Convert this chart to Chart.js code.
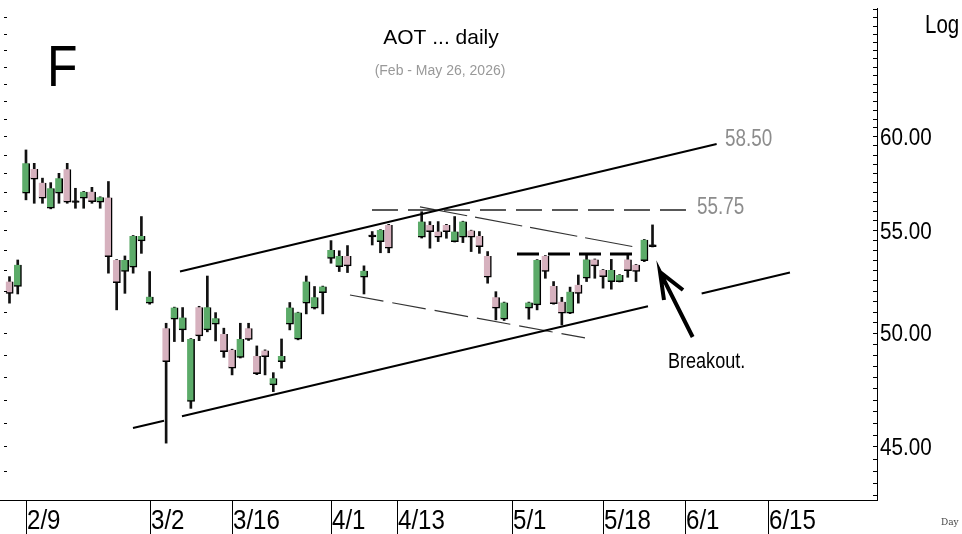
<!DOCTYPE html>
<html>
<head>
<meta charset="utf-8">
<title>AOT daily</title>
<script src="https://cdn.jsdelivr.net/npm/chart.js@4.4.1/dist/chart.umd.min.js"></script>
<style>
  html, body { margin: 0; padding: 0; background: #fff; }
  canvas { display: block; }
</style>
</head>
<body>
<canvas id="myChart" width="962" height="534"></canvas>
<script>
// weekday slots from 2026-02-05, holidays stay as empty slots
let slots = []
let day = new Date(2026, 1, 5)
while (slots.length < 106) {
    const wd = day.getDay()
    if (wd !== 0 && wd !== 6) slots.push((day.getMonth() + 1) + '/' + day.getDate())
    day.setDate(day.getDate() + 1)
}
const tickDates = ['2/9', '3/2', '3/16', '4/1', '4/13', '5/1', '5/18', '6/1', '6/15']
const priceLabels = [45, 50, 55, 60]

const open = [52.44, 52.20, 56.92, 58.21, 57.48, 56.13, 56.92, 58.20, 56.47, 56.66,
    57.00, 56.45, 56.69, 53.50, 52.93, 53.15, 54.46, 51.40, null, 50.22,
    50.64, 50.14, 46.92, 51.21, 50.14, 50.41, 49.95, 49.22, 48.88, 50.22,
    48.94, 49.19, 47.65, 48.68, 50.41, 49.71, 51.40, 51.16, 51.90, 53.58,
    53.17, 53.70, null, 52.65, 54.66, 54.42, 55.27, null, null, null,
    54.64, 55.27, 54.93, 55.27, 54.42, 54.64, 54.98, 54.71, 53.70, 51.68,
    50.64, null, null, 51.16, 51.32, 53.70, 52.23, 51.47, 50.92, 52.28,
    52.60, 53.53, 53.01, 52.44, 52.44, 53.53, 53.26, 53.47, 54.17]
const high = [52.68, 53.50, 59.25, 58.52, 57.72, 57.48, 57.98, 58.52, 57.18, 57.02,
    57.23, 56.73, 57.54, 53.52, 53.70, 54.73, 55.70, 52.93, null, 50.45,
    51.21, 51.19, 49.74, 51.25, 52.71, 50.95, 50.22, 49.25, 50.45, 50.45,
    49.40, 49.22, 48.19, 49.72, 51.43, 50.97, 52.71, 52.20, 52.22, 54.47,
    53.96, 54.22, null, 53.21, 54.93, 55.03, 55.30, null, null, null,
    55.95, 55.44, 55.44, 55.30, 55.70, 55.46, 55.00, 54.93, 53.92, 51.95,
    51.45, null, null, 51.45, 53.52, 53.72, 52.44, 51.68, 52.17, 52.76,
    53.75, 53.55, 53.03, 53.53, 52.78, 53.75, 53.28, 54.53, 55.27]
const low = [51.40, 51.84, 56.57, 56.39, 56.39, 56.10, 56.39, 56.39, 56.13, 56.13,
    56.39, 56.13, 52.85, 51.08, 51.87, 52.85, 53.83, 51.35, null, 45.14,
    49.60, 49.60, 46.62, 49.64, 50.05, 49.63, 48.88, 48.09, 48.85, 49.65,
    48.10, 48.09, 47.35, 48.39, 50.14, 49.68, 50.89, 51.12, 50.89, 53.34,
    52.93, 52.88, null, 51.84, 54.25, 53.86, 53.86, null, null, null,
    54.60, 54.09, 54.42, 54.59, 54.40, 54.37, 53.92, 53.83, 52.36, 50.61,
    50.58, null, null, 50.64, 51.08, 52.60, 51.35, 50.37, 50.90, 51.40,
    52.44, 52.60, 52.12, 52.07, 52.42, 52.65, 52.44, 53.42, 54.15]
const close = [51.87, 53.26, 58.52, 57.67, 56.66, 57.18, 57.72, 56.45, 56.43, 57.00,
    56.48, 56.71, 53.66, 52.39, 53.50, 54.71, 54.71, 51.71, null, 48.68,
    51.19, 50.72, 49.72, 49.86, 51.21, 50.69, 49.14, 48.39, 49.72, 49.70,
    48.15, 48.91, 47.94, 48.94, 51.19, 50.95, 52.44, 51.68, 52.20, 54.00,
    53.70, 53.21, null, 52.97, 54.70, 55.01, 54.09, null, null, null,
    55.44, 54.93, 54.64, 54.93, 54.93, 55.44, 54.64, 54.17, 52.65, 51.16,
    51.43, null, null, 51.43, 53.50, 52.93, 51.37, 50.92, 51.95, 51.87,
    53.53, 53.21, 52.68, 53.01, 52.76, 52.97, 52.93, 54.51, 54.19]

// drawn lines as [slot, price] points, null = gap
const upperChannel = [[20.68, 52.93], [85.78, 59.58]]
const lowerChannel = [[14.98, 45.78], [18.74, 46.09], null, [20.92, 46.28], [77.45, 51.25], null, [83.96, 51.86], [94.67, 52.88]]
const resistance = [[43.97, 56.04], [82.54, 56.04]]
const upperTrend = [[49.79, 56.20], [76.48, 54.10]]
const lowerTrend = [[41.3, 51.79], [69.81, 49.77]]
const breakoutLevel = [[61.56, 53.80], [76.48, 53.80]]
const arrow = [[82.87, 49.81], [78.91, 52.90], [79.39, 51.55], null, [78.91, 52.90], [81.70, 52.03]]

const green = '#5cab69'
const pink = '#d6b1be'

let wicks = []
let bodies = []
let bodyColors = []
open.forEach((o, i) => {
    if (o === null) return
    wicks.push({ x: i, y: [low[i], high[i]] })
    bodies.push({ x: i, y: [o, close[i]] })
    if (Math.abs(close[i] - o) < 0.06) bodyColors.push('#111')
    else bodyColors.push(close[i] > o ? green : pink)
})

function pts(arr) {
    return arr.map((p, k) => p ? { x: p[0], y: p[1] } : { x: arr[k - 1][0], y: null })
}
function lineSet(arr, width, dash, color) {
    return {
        type: 'line', data: pts(arr), borderColor: color || '#000', borderWidth: width,
        borderDash: dash || [], pointRadius: 0, fill: false, tension: 0, order: 0, spanGaps: false
    }
}

const tickIdx = tickDates.map(t => slots.indexOf(t))
const sans = "'Liberation Sans', Arial, sans-serif"

// narrow look: Liberation Sans squeezed horizontally
function narrowText(ctx, text, x, y, size, color, squeeze) {
    ctx.save()
    ctx.font = size + 'px ' + sans
    ctx.fillStyle = color
    ctx.textAlign = 'left'
    ctx.textBaseline = 'alphabetic'
    ctx.translate(x, y)
    ctx.scale(squeeze || 0.82, 1)
    ctx.fillText(text, 0, 0)
    ctx.restore()
}

const decor = {
    id: 'decor',
    afterDraw(chart) {
        const { ctx, chartArea, scales: { x, y } } = chart
        ctx.save()
        ctx.strokeStyle = '#000'
        ctx.lineWidth = 1
        ctx.beginPath()
        for (let v = 43; v <= 67.5; v += 0.5) {
            const py = Math.round(y.getPixelForValue(v)) + 0.5
            ctx.moveTo(chartArea.right - 4, py); ctx.lineTo(chartArea.right, py)
        }
        for (let v = 44; v <= 67; v += 1) {
            const py = Math.round(y.getPixelForValue(v)) + 0.5
            ctx.moveTo(4, py); ctx.lineTo(7, py)
        }
        x.ticks.forEach(t => {
            const px = Math.round(x.getPixelForValue(t.value)) + 0.5
            ctx.moveTo(px, chartArea.bottom); ctx.lineTo(px, chart.height)
        })
        ctx.stroke()
        ctx.restore()

        // axis labels
        x.ticks.forEach(t => {
            narrowText(ctx, slots[t.value], Math.round(x.getPixelForValue(t.value)) + 1, 529, 28, '#000', 0.86)
        })
        y.ticks.forEach(t => {
            narrowText(ctx, t.value.toFixed(2), chartArea.right + 3, y.getPixelForValue(t.value) + 8.5, 24, '#000', 0.86)
        })

        narrowText(ctx, 'F', 47, 86, 58, '#000', 0.86)
        ctx.save()
        ctx.textBaseline = 'alphabetic'
        ctx.textAlign = 'center'
        ctx.fillStyle = '#000'
        ctx.font = '21px ' + sans
        ctx.fillText('AOT ... daily', 441, 44)
        ctx.font = '14px ' + sans
        ctx.fillStyle = '#999'
        ctx.fillText('(Feb - May 26, 2026)', 440, 75)
        ctx.textAlign = 'left'
        ctx.font = "9px 'DejaVu Serif', serif"
        ctx.fillStyle = '#444'
        ctx.fillText('Day', 941, 525)
        ctx.restore()
        narrowText(ctx, 'Log', 925, 33, 25, '#000')
        narrowText(ctx, '58.50', 725, 146, 23, '#8c8c8c')
        narrowText(ctx, '55.75', 697, 214, 23, '#8c8c8c')
        narrowText(ctx, 'Breakout.', 668, 368, 22, '#000')
    }
}

var ctx = document.getElementById('myChart').getContext('2d')
var chart = new Chart(ctx, {
    type: 'bar',
    data: {
        datasets: [
            lineSet(upperChannel, 2),
            lineSet(lowerChannel, 2),
            lineSet(resistance, 1.3, [26, 10], '#222'),
            lineSet(upperTrend, 1.2, [48, 8], '#333'),
            lineSet(lowerTrend, 1.2, [34, 9], '#333'),
            lineSet(breakoutLevel, 3, [22, 9]),
            lineSet(arrow, 4),
            {
                type: 'bar', data: bodies, backgroundColor: bodyColors, borderColor: '#000',
                borderWidth: { top: 0, left: 0, right: 1.5, bottom: 1.5 }, borderSkipped: false,
                barThickness: 7.5, minBarLength: 2, grouped: false, order: 1
            },
            {
                type: 'bar', data: wicks, backgroundColor: '#111', borderWidth: 0,
                barThickness: 2, grouped: false, order: 2
            }
        ]
    },
    options: {
        responsive: false,
        animation: false,
        devicePixelRatio: 1,
        layout: { padding: { top: 8, left: 0, right: 0, bottom: 0 } },
        plugins: { legend: { display: false }, tooltip: { enabled: false } },
        scales: {
            x: {
                type: 'linear', offset: false, min: -1.152, max: 105.23,
                afterBuildTicks: s => { s.ticks = tickIdx.map(v => ({ value: v })) },
                afterFit: s => { s.height = 34; s.paddingLeft = 0; s.paddingRight = 0 },
                grid: { display: false, drawTicks: false },
                border: { display: true, color: '#000', width: 1 },
                ticks: { display: false }
            },
            y: {
                type: 'logarithmic', position: 'right', min: 42.82, max: 67.59, beginAtZero: false,
                afterBuildTicks: s => { s.ticks = priceLabels.map(v => ({ value: v })) },
                afterFit: s => { s.width = 85; s.paddingTop = 0; s.paddingBottom = 0 },
                grid: { display: false, drawTicks: false },
                border: { display: true, color: '#000', width: 1 },
                ticks: { display: false }
            }
        }
    },
    plugins: [decor]
})
</script>
</body>
</html>
